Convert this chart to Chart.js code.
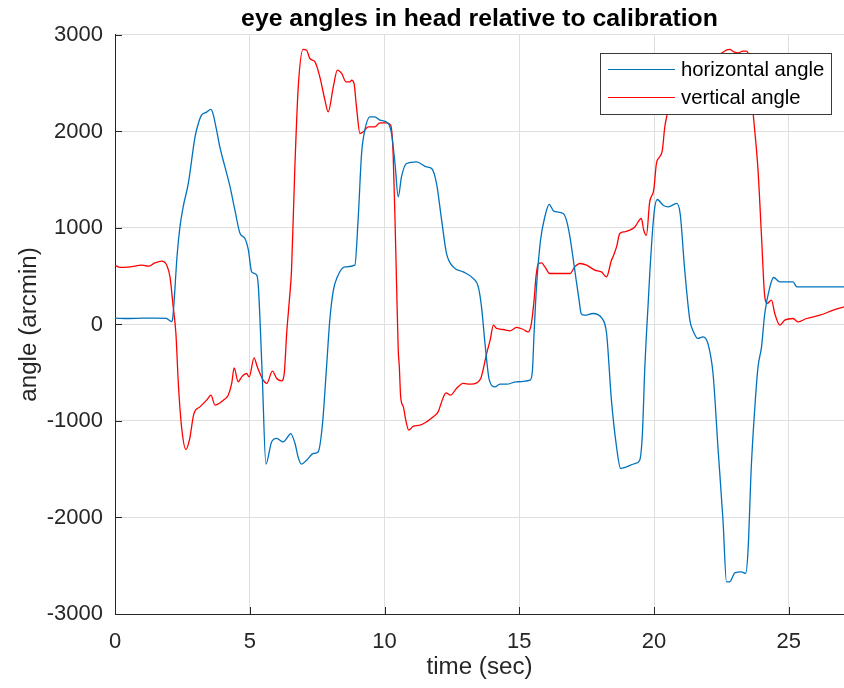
<!DOCTYPE html>
<html>
<head>
<meta charset="utf-8">
<script src="https://cdn.jsdelivr.net/npm/chart.js@4.4.1/dist/chart.umd.min.js"></script>
<style>
  html, body { margin: 0; padding: 0; background: #fff; }
  #wrap { width: 844px; height: 688px; position: relative; }
</style>
</head>
<body>
<div id="wrap"><canvas id="c" width="844" height="688"></canvas></div>
<script>
// Eye angle traces (arcmin) against time (sec)
const hTime = [
  0, 0.5, 1.0, 1.5, 1.9, 2.1, 2.14, 2.31, 2.41, 2.53, 2.72, 2.97, 3.10, 3.21, 3.40, 3.55, 3.62,
  3.77, 3.89, 4.08, 4.27, 4.45, 4.64, 4.82, 4.95, 5.07, 5.26, 5.32, 5.46, 5.60, 5.81, 6.00,
  6.24, 6.45, 6.52, 6.68, 6.80, 6.92, 7.11, 7.36, 7.54, 7.70, 7.85, 7.97, 8.10, 8.25, 8.53,
  8.90, 9.02, 9.15, 9.27, 9.46, 9.64, 9.83, 10.14, 10.26, 10.39, 10.51, 10.63, 10.82, 11.19,
  11.56, 11.75, 11.93, 12.12, 12.30, 12.55, 12.92, 13.29, 13.48, 13.60, 13.73, 13.89, 14.10,
  14.28, 14.53, 14.90, 15.40, 15.49, 15.55, 15.64, 15.79, 15.95, 16.11, 16.28, 16.63, 16.75,
  16.88, 17.06, 17.22, 17.30, 17.43, 17.74, 18.05, 18.24, 18.42, 18.61, 18.76, 18.98, 19.29,
  19.47, 19.57, 19.66, 19.72, 19.78, 19.85, 20.00, 20.12, 20.34, 20.53, 20.84, 20.97, 21.14,
  21.33, 21.44, 21.63, 21.82, 22.00, 22.19, 22.38, 22.56, 22.69, 22.81, 23.00, 23.24, 23.40,
  23.49, 23.61, 23.76, 23.86, 23.99, 24.11, 24.30, 24.44, 24.67, 25.16, 25.30, 25.90, 27.05
];
const hAngle = [
  65, 62, 65, 66, 64, 30, 60, 736, 1011, 1219, 1461, 1944, 2090, 2169, 2200, 2228, 2200,
  2013, 1840, 1633, 1426, 1184, 943, 891, 770, 545, 511, 390, -500, -1448, -1217, -1181,
  -1217, -1150, -1130, -1233, -1380, -1448, -1406, -1337, -1319, -1026, -439, 45, 350, 493, 597,
  615, 1081, 1772, 2013, 2151, 2151, 2117, 2083, 1979, 1668, 1322, 1530, 1668, 1685,
  1633, 1616, 1461, 1081, 736, 597, 545, 477, 390, 182, -200, -577, -647,
  -619, -619, -594, -577, -474, -93, 390, 874, 1115, 1244, 1174, 1150, 1081,
  908, 563, 252, 110, 96, 114, 70, -93, -784, -1268, -1492, -1475, -1441,
  -1406, -1130, -439, -100, 200, 563, 1150, 1295, 1236, 1219, 1254, 1150, 563,
  45, -59, -145, -128, -197, -508, -1303, -2028, -2667, -2667, -2574, -2564, -2580,
  -2339, -1475, -784, -439, -232, 114, 390, 487, 441, 441, 390, 390, 390
];

const vTime = [
  0, 0.19, 0.56, 0.99, 1.24, 1.48, 1.73, 1.92, 2.04, 2.16, 2.26, 2.35, 2.47, 2.63, 2.76, 2.93,
  3.15, 3.40, 3.56, 3.71, 4.02, 4.20, 4.33, 4.42, 4.57, 4.70, 4.88, 4.98, 5.16, 5.28, 5.50,
  5.63, 5.84, 6.00, 6.18, 6.28, 6.37, 6.47, 6.55, 6.67, 6.80, 6.98, 7.11, 7.23, 7.42, 7.60,
  7.79, 7.91, 8.10, 8.25, 8.41, 8.57, 8.72, 8.78, 8.87, 8.96, 9.09, 9.21, 9.40, 9.64, 9.83,
  10.08, 10.23, 10.32, 10.39, 10.45, 10.51, 10.55, 10.60, 10.70, 10.79, 10.90, 11.07, 11.31,
  11.56, 11.81, 11.99, 12.12, 12.28, 12.45, 12.67, 12.92, 13.19, 13.42, 13.57, 13.67, 13.79,
  13.92, 14.04, 14.16, 14.40, 14.65, 14.90, 15.15, 15.33, 15.45, 15.55, 15.62, 15.71, 15.83,
  15.95, 16.13, 16.38, 16.63, 16.88, 17.06, 17.25, 17.50, 17.80, 18.05, 18.24, 18.42, 18.48,
  18.61, 18.73, 18.91, 19.10, 19.29, 19.53, 19.62, 19.72, 19.84, 19.99, 20.09, 20.21, 20.31,
  20.40, 20.49, 20.60, 20.75, 21.00, 21.50, 22.00, 22.50, 22.70, 22.81, 22.96, 23.12, 23.30,
  23.43, 23.50, 23.68, 23.86, 23.99, 24.11, 24.20, 24.36, 24.48, 24.67, 24.85, 25.16, 25.35,
  25.66, 26.15, 26.65, 27.05
];
const vAngle = [
  614, 591, 597, 614, 604, 638, 656, 614, 493, 182, -93, -611, -1061, -1295, -1199, -922,
  -854, -784, -733, -836, -784, -733, -611, -450, -594, -543, -508, -543, -346, -439, -577,
  -611, -484, -560, -584, -508, -93, 252, 563, 1599, 2462, 2850, 2842, 2756, 2721, 2566,
  2324, 2203, 2462, 2635, 2601, 2514, 2514, 2532, 2497, 2255, 1979, 1996, 2048, 2048, 2089,
  2089, 2065, 1772, 1081, 390, -266, -439, -750, -854, -992, -1095, -1054, -1044,
  -1009, -957, -906, -802, -709, -733, -663, -611, -619, -605, -560, -456, -301,
  -163, -7, -41, -52, -66, -31, -52, -77, 10, 252, 493, 632, 638,
  597, 528, 528, 528, 528, 597, 632, 615, 563, 545, 493, 666, 701,
  804, 943, 960, 977, 1011, 1098, 977, 925, 1270, 1392, 1668, 1737, 1806,
  2048, 2186, 2450, 2650, 2750, 2780, 2790, 2810, 2845, 2850, 2825, 2815, 2832,
  2832, 2800, 2186, 1599, 908, 286, 218, 252, 114, -7, 45, 62, 27,
  62, 96, 148, 182
];

const seriesNames = ['horizontal angle', 'vertical angle'];
const xTicks = [0, 5, 10, 15, 20, 25];
const yTicks = [-3000, -2000, -1000, 0, 1000, 2000, 3000];

const FONT = '"Liberation Sans", Arial, Helvetica, sans-serif';
const AXIS_COLOR = '#262626';
const GRID_COLOR = '#dfdfdf';

const toPoints = (ts, vs) => ts.map((t, i) => ({ x: t, y: vs[i] }));

// Tick marks drawn on the inside of the axes
const innerTicks = {
  id: 'innerTicks',
  afterDatasetsDraw(chart) {
    const { ctx, chartArea, scales } = chart;
    ctx.save();
    ctx.strokeStyle = AXIS_COLOR;
    ctx.lineWidth = 1;
    ctx.beginPath();
    scales.y.ticks.forEach(t => {
      const py = Math.round(scales.y.getPixelForValue(t.value)) + 0.5;
      ctx.moveTo(chartArea.left, py);
      ctx.lineTo(chartArea.left + 7, py);
    });
    scales.x.ticks.forEach(t => {
      const px = Math.round(scales.x.getPixelForValue(t.value)) + 0.5;
      ctx.moveTo(px, chartArea.bottom);
      ctx.lineTo(px, chartArea.bottom - 7);
    });
    ctx.stroke();
    ctx.restore();
  }
};

// Boxed legend in the upper right of the plot area, over the traces
const boxedLegend = {
  id: 'boxedLegend',
  afterDatasetsDraw(chart) {
    const { ctx, chartArea } = chart;
    const w = 231, h = 61;
    const x = Math.round(chartArea.right - 13 - w);
    const y = Math.round(chartArea.top + 18);
    ctx.save();
    ctx.fillStyle = '#ffffff';
    ctx.fillRect(x, y, w, h);
    ctx.strokeStyle = '#3a3a3a';
    ctx.lineWidth = 1;
    ctx.strokeRect(x + 0.5, y + 0.5, w, h);
    chart.data.datasets.forEach((ds, i) => {
      const ly = y + 16.5 + i * 28;
      ctx.strokeStyle = ds.borderColor;
      ctx.lineWidth = 1;
      ctx.beginPath();
      ctx.moveTo(x + 8, ly);
      ctx.lineTo(x + 75, ly);
      ctx.stroke();
      ctx.fillStyle = '#000000';
      ctx.font = '20.3px ' + FONT;
      ctx.textBaseline = 'middle';
      ctx.textAlign = 'left';
      ctx.fillText(ds.label, x + 81, ly + 1);
    });
    ctx.restore();
  }
};

const plainNumber = v => String(v);

new Chart(document.getElementById('c'), {
  type: 'line',
  data: {
    datasets: [
      {
        label: seriesNames[0],
        data: toPoints(hTime, hAngle),
        borderColor: '#0072BD',
        borderWidth: 1.3,
        pointRadius: 0,
        cubicInterpolationMode: 'monotone',
        fill: false
      },
      {
        label: seriesNames[1],
        data: toPoints(vTime, vAngle),
        borderColor: '#FF0000',
        borderWidth: 1.3,
        pointRadius: 0,
        cubicInterpolationMode: 'monotone',
        fill: false
      }
    ]
  },
  options: {
    responsive: false,
    devicePixelRatio: 1,
    animation: false,
    parsing: false,
    layout: { padding: { top: 0, left: 0, right: 0, bottom: 0 } },
    plugins: {
      legend: { display: false },
      tooltip: { enabled: false },
      title: {
        display: true,
        text: 'eye angles in head relative to calibration',
        color: '#000000',
        font: { family: FONT, size: 24.8, weight: 'bold' },
        padding: { top: 4, bottom: 1.2 },
        fullSize: false
      }
    },
    scales: {
      x: {
        type: 'linear',
        min: 0,
        max: 27.05,
        afterBuildTicks: s => { s.ticks = xTicks.map(v => ({ value: v })); },
        afterFit: s => { s.height = 74; },
        grid: { color: GRID_COLOR, lineWidth: 1, drawTicks: false },
        border: { color: AXIS_COLOR, width: 1 },
        ticks: {
          color: AXIS_COLOR,
          font: { family: FONT, size: 22 },
          padding: 15,
          maxRotation: 0,
          autoSkip: false,
          callback: plainNumber
        },
        title: {
          display: true,
          text: 'time (sec)',
          color: AXIS_COLOR,
          font: { family: FONT, size: 24.2 },
          padding: { top: 0, bottom: 6 }
        }
      },
      y: {
        type: 'linear',
        min: -3000,
        max: 3000,
        afterBuildTicks: s => { s.ticks = yTicks.map(v => ({ value: v })); },
        afterFit: s => { s.width = 115; },
        grid: { color: GRID_COLOR, lineWidth: 1, drawTicks: false },
        border: { color: AXIS_COLOR, width: 1 },
        ticks: {
          color: AXIS_COLOR,
          font: { family: FONT, size: 22 },
          padding: 12,
          autoSkip: false,
          callback: plainNumber
        },
        title: {
          display: true,
          text: 'angle (arcmin)',
          color: AXIS_COLOR,
          font: { family: FONT, size: 24.2 },
          padding: { top: 15, bottom: 0 }
        }
      }
    }
  },
  plugins: [innerTicks, boxedLegend]
});
</script>
</body>
</html>
